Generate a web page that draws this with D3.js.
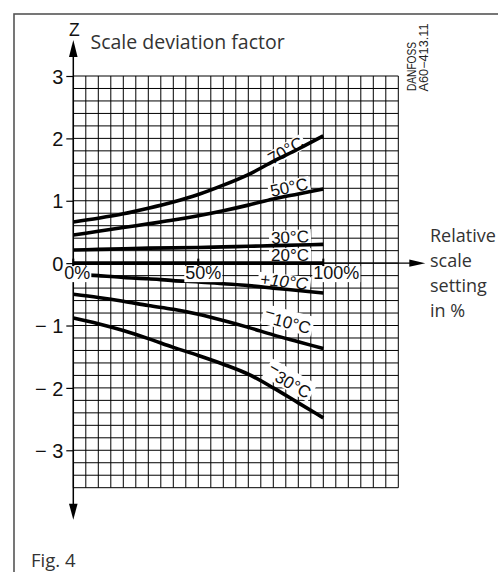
<!DOCTYPE html>
<html>
<head>
<meta charset="utf-8">
<script src="https://cdn.jsdelivr.net/npm/d3@7"></script>
<style>
  html, body { margin: 0; padding: 0; background: #fff; }
  svg { display: block; }
</style>
</head>
<body>
<svg id="chart" width="498" height="572"></svg>
<script>
// ---------------- data ----------------
const settings = [0, 10, 20, 30, 40, 50, 60, 70, 80, 90, 100]; // relative scale setting, %
const z70  = [0.66, 0.72, 0.79, 0.88, 0.98, 1.10, 1.25, 1.42, 1.63, 1.83, 2.04];
const z50  = [0.45, 0.51, 0.57, 0.63, 0.69, 0.76, 0.84, 0.93, 1.03, 1.11, 1.19];
const z30  = [0.21, 0.22, 0.23, 0.24, 0.245, 0.25, 0.26, 0.27, 0.28, 0.29, 0.30];
const z20  = [0, 0, 0, 0, 0, 0, 0, 0, 0, 0, 0];
const zP10 = [-0.18, -0.20, -0.23, -0.25, -0.28, -0.30, -0.33, -0.36, -0.40, -0.44, -0.48];
const zM10 = [-0.50, -0.55, -0.61, -0.68, -0.74, -0.82, -0.92, -1.03, -1.15, -1.26, -1.37];
const zM30 = [-0.88, -0.97, -1.08, -1.21, -1.35, -1.48, -1.62, -1.78, -2.00, -2.24, -2.48];
const seriesValues = [z70, z50, z30, z20, zP10, zM10, zM30];
const seriesLabels = ["70°C", "50°C", "30°C", "20°C", "+10°C", "−10°C", "−30°C"];
const yTicks = [3, 2, 1, 0, -1, -2, -3];
const xTickValues = [0, 50, 100];
const xTickLabels = ["0%", "50%", "100%"];
const titleText = "Scale deviation factor";
const axisText = ["Relative", "scale", "setting", "in %"];

// ---------------- layout ----------------
const svg = d3.select("#chart");
const x = d3.scaleLinear().domain([0, 130]).range([73.3, 398.3]);
const y = d3.scaleLinear().domain([-3.6, 3]).range([487.7, 76]);
const SANS = "'Liberation Sans', Arial, sans-serif";
const MYR = "'Open Sans', 'Noto Sans', sans-serif";

// frame
svg.append("rect").attr("x", 14).attr("y", 14).attr("width", 520).attr("height", 600)
  .attr("fill", "none").attr("stroke", "#555").attr("stroke-width", 1.6);

// grid
const grid = svg.append("g").attr("stroke", "#000").attr("stroke-width", 1);
d3.range(0, 131, 5).forEach(v => {
  grid.append("line").attr("x1", x(v)).attr("x2", x(v)).attr("y1", y(3)).attr("y2", y(-3.6));
});
d3.range(0, 34).map(i => 3 - 0.2 * i).forEach(v => {
  grid.append("line").attr("x1", x(0)).attr("x2", x(130)).attr("y1", y(v)).attr("y2", y(v));
});

// curve labels (layout: centre in data units + rotation)
const labelLayout = [
  {p: 84.9, z: 1.81, a: -30, it: false},
  {p: 86.3, z: 1.22, a: -12, it: false},
  {p: 86.7, z: 0.42, a: -3,  it: false},
  {p: 86.7, z: 0.13, a: 0,   it: false},
  {p: 84.3, z: -0.29, a: 6,  it: true},
  {p: 85.0, z: -1.04, a: 15, it: false},
  {p: 85.0, z: -1.99, a: 30, it: false}
];
seriesLabels.forEach((lab, i) => {
  const L = labelLayout[i];
  const g = svg.append("g").attr("transform", `translate(${x(L.p)},${y(L.z)}) rotate(${L.a})`);
  const t = g.append("text").attr("text-anchor", "middle").attr("dy", "0.36em")
    .attr("font-family", SANS).attr("font-size", 17).attr("fill", "#111")
    .attr("font-style", L.it ? "italic" : "normal");
  if (lab.startsWith("−")) {
    t.append("tspan").attr("dy", "-0.3em").text("−");
    t.append("tspan").attr("dy", "0.3em").text(lab.slice(1));
  } else {
    t.text(lab);
  }
  const bb = t.node().getBBox();
  g.insert("rect", "text").attr("x", bb.x - 2).attr("y", bb.y + 2).attr("width", bb.width + 4)
    .attr("height", bb.height - 4).attr("fill", "#fff");
});

// curves
const line = d3.line().x((d, i) => x(settings[i])).y(d => y(d)).curve(d3.curveMonotoneX);
seriesValues.forEach(vals => {
  svg.append("path").attr("d", line(vals)).attr("fill", "none")
    .attr("stroke", "#000").attr("stroke-width", 3.6).attr("stroke-linecap", "butt");
});

// axes lines and arrows
svg.append("line").attr("x1", x(0)).attr("x2", x(0)).attr("y1", y(3) - 22).attr("y2", y(-3.6) + 20)
  .attr("stroke", "#000").attr("stroke-width", 1.5);
svg.append("line").attr("x1", x(100)).attr("x2", x(130) + 14).attr("y1", y(0)).attr("y2", y(0))
  .attr("stroke", "#000").attr("stroke-width", 1.2);
const ax = x(0);
svg.append("path").attr("d", `M${ax},${y(3) - 36} L${ax - 4.3},${y(3) - 19} L${ax + 4.3},${y(3) - 19} Z`).attr("fill", "#000");
svg.append("path").attr("d", `M${ax},${y(-3.6) + 32} L${ax - 4.3},${y(-3.6) + 16} L${ax + 4.3},${y(-3.6) + 16} Z`).attr("fill", "#000");
const xe = x(130) + 27, yz = y(0);
svg.append("path").attr("d", `M${xe},${yz} L${xe - 16},${yz - 3.7} L${xe - 16},${yz + 3.7} Z`).attr("fill", "#000");

// small ticks on the x axis
xTickValues.forEach(v => {
  svg.append("line").attr("x1", x(v)).attr("x2", x(v)).attr("y1", yz - 4.5).attr("y2", yz + 3)
    .attr("stroke", "#000").attr("stroke-width", 2);
});

// percent labels with white background
const pctOffset = [-9, -13, -10];
xTickValues.forEach((v, i) => {
  const g = svg.append("g").attr("transform", `translate(${x(v) + pctOffset[i]},${yz + 16})`);
  const t = g.append("text").attr("font-family", SANS).attr("font-size", 18).attr("fill", "#111")
    .text(xTickLabels[i]);
  const bb = t.node().getBBox();
  g.insert("rect", "text").attr("x", bb.x - 1).attr("y", bb.y + 3).attr("width", bb.width + 2)
    .attr("height", bb.height - 4).attr("fill", "#fff");
});

// y axis ticks
const yAxis = d3.axisLeft(y).tickValues(yTicks).tickSize(7).tickPadding(3)
  .tickFormat(d => d < 0 ? "\u2212 " + Math.abs(d) : String(d));
const yg = svg.append("g").attr("transform", `translate(${x(0)},0)`).call(yAxis);
yg.select(".domain").remove();
yg.attr("font-size", null).attr("font-family", null);
yg.selectAll(".tick line").attr("stroke", "#000").attr("stroke-width", 1.2);
yg.selectAll(".tick text").attr("font-family", SANS).attr("font-size", 20).attr("fill", "#111")
  .attr("dy", "0.36em").style("white-space", "pre");

// Z label and title
svg.append("text").attr("x", x(0) + 1).attr("y", 35.5).attr("text-anchor", "middle")
  .attr("font-family", SANS).attr("font-size", 17.5).attr("fill", "#111").text("Z");
svg.append("text").attr("x", 90.5).attr("y", 49).attr("font-family", MYR).attr("font-size", 19.5)
  .attr("fill", "#333").text(titleText);

// x axis title
axisText.forEach((s, i) => {
  svg.append("text").attr("x", 430).attr("y", 241.7 + 25 * i).attr("font-family", MYR)
    .attr("font-size", 18).attr("fill", "#333").text(s);
});

// drawing reference
const ref = svg.append("g").attr("font-family", SANS).attr("font-size", 12).attr("fill", "#222");
ref.append("text").attr("transform", "translate(415.7,91) rotate(-90)").attr("textLength", 49)
  .attr("lengthAdjust", "spacingAndGlyphs").text("DANFOSS");
ref.append("text").attr("transform", "translate(427.7,91.5) rotate(-90)").attr("textLength", 68)
  .attr("lengthAdjust", "spacingAndGlyphs").text("A60−413.11");

// figure caption
svg.append("text").attr("x", 31).attr("y", 566.5).attr("font-family", MYR).attr("font-size", 18.5)
  .attr("fill", "#333").text("Fig. 4");
</script>
</body>
</html>
